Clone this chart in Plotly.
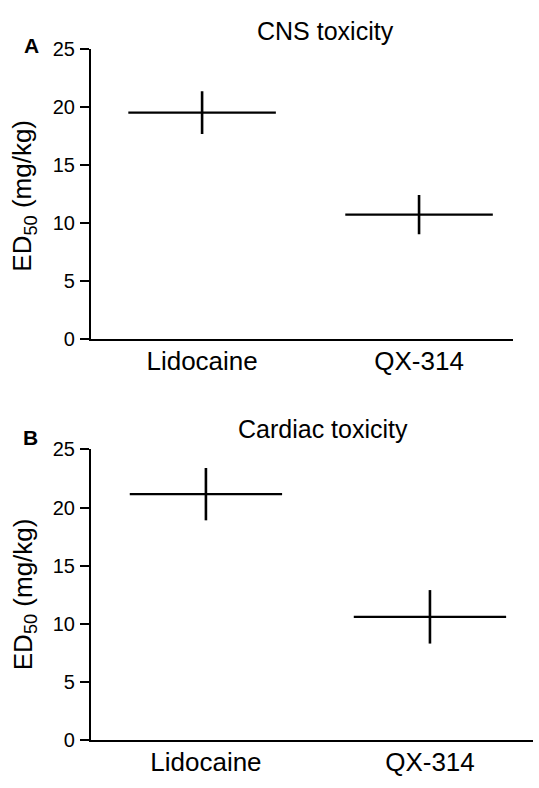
import plotly.graph_objects as go

categories = ["Lidocaine", "QX-314"]
cns_ed50 = [19.5, 10.7]
cns_err = [1.85, 1.7]
cardiac_ed50 = [21.15, 10.6]
cardiac_err = [2.25, 2.3]
y_ticks = [0, 5, 10, 15, 20, 25]

W, H = 539, 788
FONT = "Liberation Sans, Arial, sans-serif"

fig = go.Figure()
xpos = list(range(len(categories)))

def add_panel(vals, errs, xa, ya):
    fig.add_trace(go.Scatter(
        x=xpos, y=vals, mode="markers", xaxis=xa, yaxis=ya,
        marker=dict(size=1, color="rgba(0,0,0,0)"),
        error_x=dict(type="constant", value=0.34, width=0, thickness=2.2, color="black"),
        error_y=dict(type="data", array=errs, width=0, thickness=2.6, color="black"),
        showlegend=False, hoverinfo="skip"))

add_panel(cns_ed50, cns_err, "x", "y")
add_panel(cardiac_ed50, cardiac_err, "x2", "y2")

def px_x(p):
    return p / W

def px_y(p):
    return 1 - p / H

xcommon = dict(tickvals=xpos, ticktext=categories, showline=True, linecolor="black", linewidth=2.2,
               ticks="", showgrid=False, zeroline=False, tickfont=dict(size=26, color="black", family=FONT),
               ticklabelstandoff=-2)
ycommon = dict(range=[0, 25], tickvals=y_ticks, showline=True, linecolor="black", linewidth=2.2,
               ticks="outside", ticklen=9, tickwidth=2, tickcolor="black", showgrid=False, zeroline=False,
               tickfont=dict(size=20, color="black", family=FONT), ticklabelstandoff=1)

fig.update_layout(
    width=W, height=H, margin=dict(l=0, r=0, t=0, b=0),
    plot_bgcolor="white", paper_bgcolor="white",
    xaxis=dict(domain=[px_x(91), px_x(513)], range=[-0.512, 1.433], anchor="y", **xcommon),
    yaxis=dict(domain=[px_y(337), px_y(39)], anchor="x", **ycommon),
    xaxis2=dict(domain=[px_x(91), px_x(533)], range=[-0.513, 1.46], anchor="y2", **xcommon),
    yaxis2=dict(domain=[px_y(750), px_y(451)], anchor="x2", **ycommon),
)

title_font = dict(size=25, color="black", family=FONT)
for text, xx, yy in [("CNS toxicity", 325, 21), ("Cardiac toxicity", 323, 430)]:
    fig.add_annotation(text=text, xref="paper", yref="paper", x=px_x(xx), y=px_y(yy),
                       xanchor="center", yanchor="middle", showarrow=False, font=title_font)
for t, xx, yy in [("A", 31, 35), ("B", 30, 439)]:
    fig.add_annotation(text="<b>" + t + "</b>", xref="paper", yref="paper", x=px_x(xx), y=px_y(yy),
                       xanchor="center", yanchor="middle", showarrow=False,
                       font=dict(size=21, color="black", family=FONT))
for yy in [190, 600]:
    fig.add_annotation(text="ED<sub>50</sub> (mg/kg)", xref="paper", yref="paper", x=px_x(24), y=px_y(yy),
                       xanchor="center", yanchor="middle", textangle=-90, showarrow=False,
                       font=dict(size=26, color="black", family=FONT))

fig.write_html("out.html", post_script="document.body.style.margin='0';", config={"displayModeBar": False})
